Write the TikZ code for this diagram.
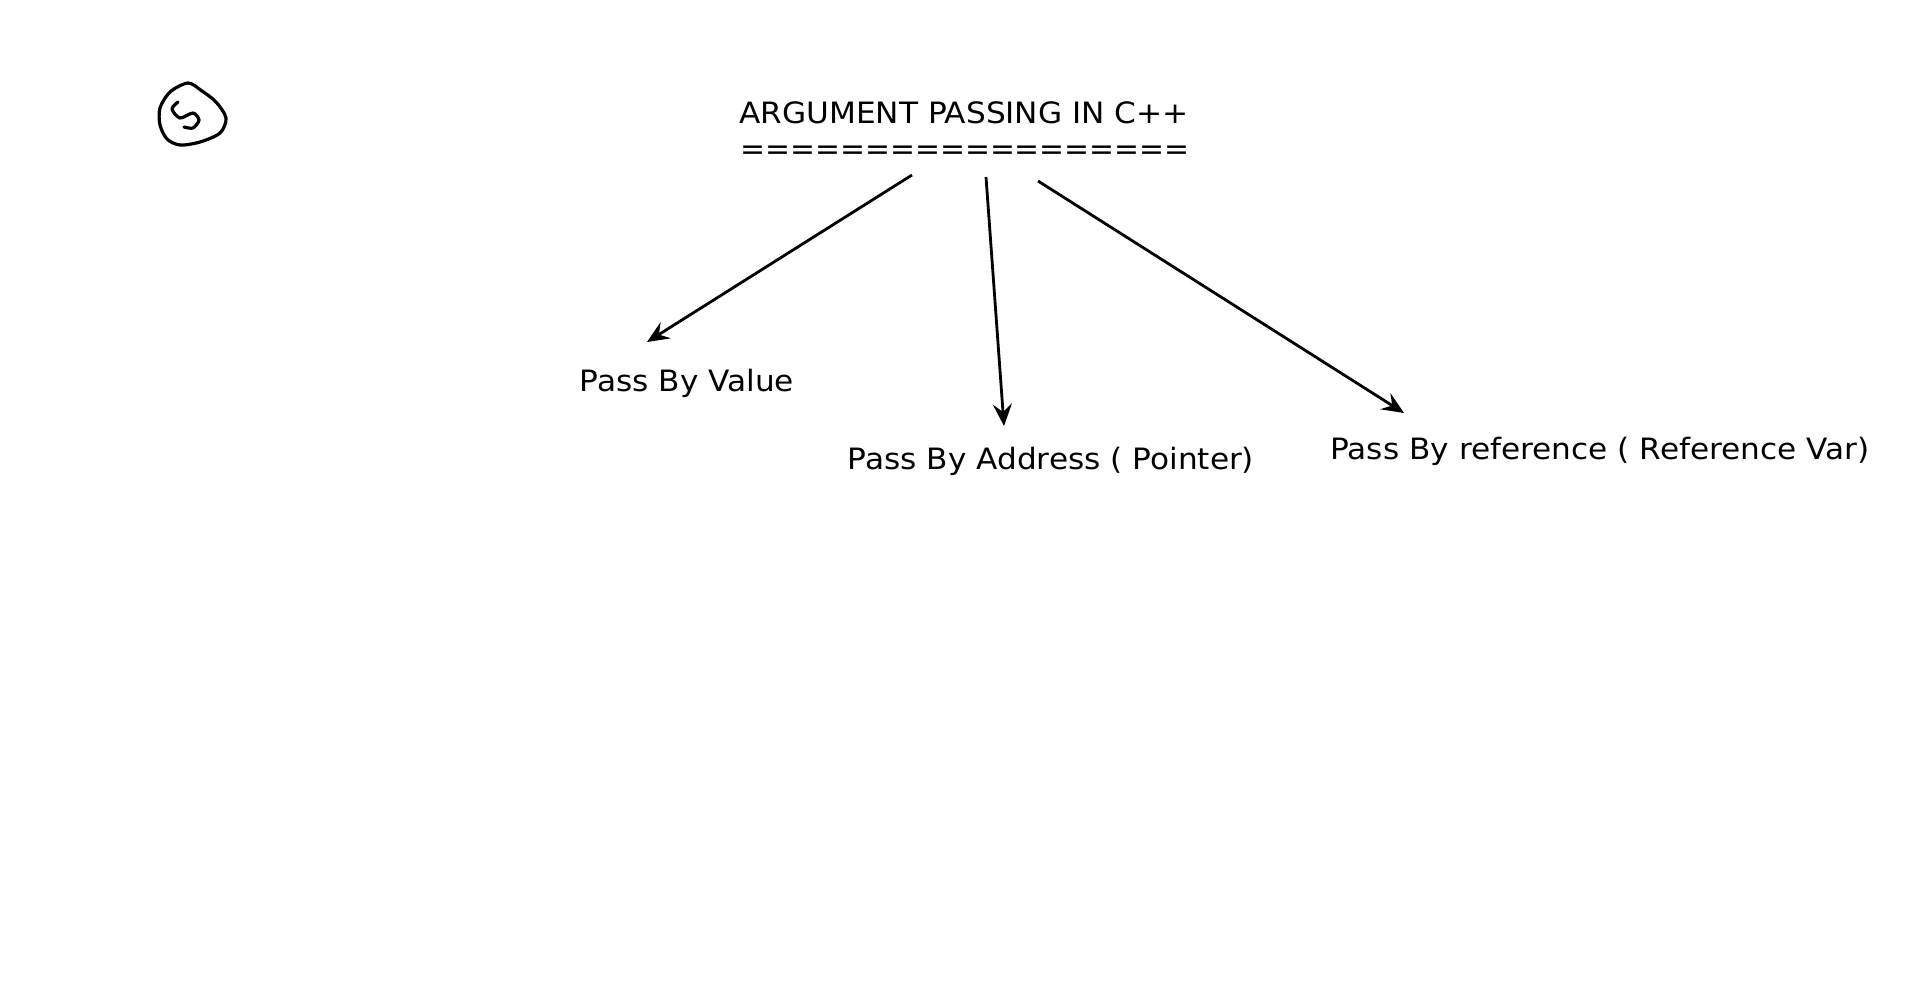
\documentclass[tikz,border=0pt]{standalone}
\usepackage{fontspec}
\setmainfont{DejaVu Sans}
\newfontfamily\widefont[FakeStretch=1.06]{DejaVu Sans}
\usetikzlibrary{positioning,arrows.meta,calc}

\begin{document}
\begin{tikzpicture}[x=0.5pt,y=-0.5pt,>={Stealth[length=11pt,width=9.5pt,inset=4pt]},
    lbl/.style={inner sep=0pt,font=\widefont\fontsize{14.7pt}{16pt}\selectfont},
    arr/.style={->,line width=1.4pt},
    pen/.style={line width=1.6pt,line cap=round,line join=round}]
    \useasboundingbox (0,0) rectangle (1920,991);
    \node[lbl] (title) at (964,113) {ARGUMENT PASSING IN C++};
    \node[lbl,font=\fontsize{14.9pt}{16pt}\selectfont] (rule) at (965,153) {==================};
    \node[lbl] (val) at (687,383) {Pass By Value};
    \node[lbl] (adr) at (1051,461) {Pass By Address ( Pointer)};
    \node[lbl] (ref) at (1600,451) {Pass By reference ( Reference Var)};
    \coordinate (valtop) at (647,342);
    \coordinate (adrtop) at (1004,426);
    \coordinate (reftop) at (1404,413);
    \coordinate (fromval) at (912,175);
    \coordinate (fromadr) at (986,177);
    \coordinate (fromref) at (1038,181);
    \draw[arr] (fromval)--(valtop); \draw[arr] (fromadr)--(adrtop); \draw[arr] (fromref)--(reftop);
    \draw[pen] plot[smooth cycle,tension=0.5] coordinates {(188,83) (202,91) (216,102) (226,118) (220,133) (200,142) (180,145) (167,139) (160,125) (160,108) (170,92)};
    \draw[pen] plot[smooth,tension=0.5] coordinates {(178,102) (172,109) (180,118) (193,113) (199,120) (193,128) (184,127)};
  \end{tikzpicture}
\end{document}
